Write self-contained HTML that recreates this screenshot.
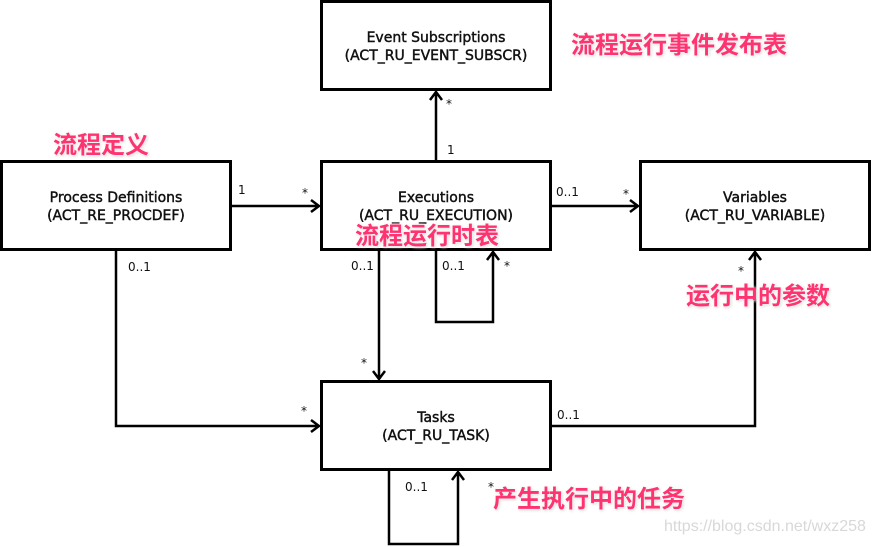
<!DOCTYPE html>
<html><head><meta charset="utf-8"><style>
body{margin:0;background:#fff;width:874px;height:547px;overflow:hidden;position:relative;font-family:"DejaVu Sans","Liberation Sans",sans-serif}
svg{position:absolute;left:0;top:0}
.cn{position:absolute;font-family:"Liberation Sans","Noto Sans CJK SC",sans-serif;font-weight:bold;font-size:24px;line-height:28px;color:#ff3370;text-shadow:0 0 3px #fff,1px 1px 3px #ccc;white-space:nowrap}
.wm{position:absolute;left:664px;top:518px;font-family:"Liberation Sans",sans-serif;font-size:16px;color:#d8d8d8}
</style></head><body>
<svg width="874" height="547" viewBox="0 0 874 547">
<g fill="#fff" stroke="#000" stroke-width="3">
<rect x="321.5" y="1.5" width="229" height="88"/>
<rect x="1.5" y="161.5" width="229" height="88"/>
<rect x="321.5" y="161.5" width="229" height="88"/>
<rect x="640.5" y="161.5" width="229" height="88"/>
<rect x="321.5" y="381.5" width="229" height="88"/>
</g>
<g fill="none" stroke="#000" stroke-width="2.5">
<path d="M231 206H319M311 200l8 6-8 6"/>
<path d="M436 160V92M430 100l6-8 6 8"/>
<path d="M551 206H638M630 200l8 6-8 6"/>
<path d="M436 251V322H493V252M487 260l6-8 6 8"/>
<path d="M379 251V379M373 371l6 8 6-8"/>
<path d="M116 251V426H319M311 420l8 6-8 6"/>
<path d="M551 426H755V252M749 260l6-8 6 8"/>
<path d="M389 471V544H458V472M452 480l6-8 6 8"/>
</g>
<g font-family="DejaVu Sans, Liberation Sans, sans-serif" font-size="14" text-anchor="middle" fill="#111" stroke="#111" stroke-width="0.45">
<text x="436" y="42">Event Subscriptions</text><text x="436" y="60">(ACT_RU_EVENT_SUBSCR)</text>
<text x="116" y="202">Process Definitions</text><text x="116" y="220">(ACT_RE_PROCDEF)</text>
<text x="436" y="202">Executions</text><text x="436" y="220">(ACT_RU_EXECUTION)</text>
<text x="755" y="202">Variables</text><text x="755" y="220">(ACT_RU_VARIABLE)</text>
<text x="436" y="422">Tasks</text><text x="436" y="440">(ACT_RU_TASK)</text>
</g>
<g font-family="DejaVu Sans, Liberation Sans, sans-serif" font-size="12" fill="#111">
<text x="238" y="194">1</text><text x="302" y="197">*</text>
<text x="446" y="108">*</text><text x="447" y="154">1</text>
<text x="556" y="196">0..1</text><text x="623" y="198">*</text>
<text x="128" y="271">0..1</text><text x="351" y="270">0..1</text>
<text x="442" y="270">0..1</text><text x="504" y="270">*</text>
<text x="738" y="275">*</text><text x="361" y="367">*</text><text x="301" y="415">*</text>
<text x="557" y="419">0..1</text>
<text x="405" y="491">0..1</text><text x="488" y="491">*</text>
</g>
</svg>
<div class="cn" style="left:571px;top:32px">流程运行事件发布表</div>
<div class="cn" style="left:53px;top:132px">流程定义</div>
<div class="cn" style="left:355px;top:223px">流程运行时表</div>
<div class="cn" style="left:686px;top:283px">运行中的参数</div>
<div class="cn" style="left:493px;top:486px">产生执行中的任务</div>
<div class="wm">https://blog.csdn.net/wxz258</div>
</body></html>
